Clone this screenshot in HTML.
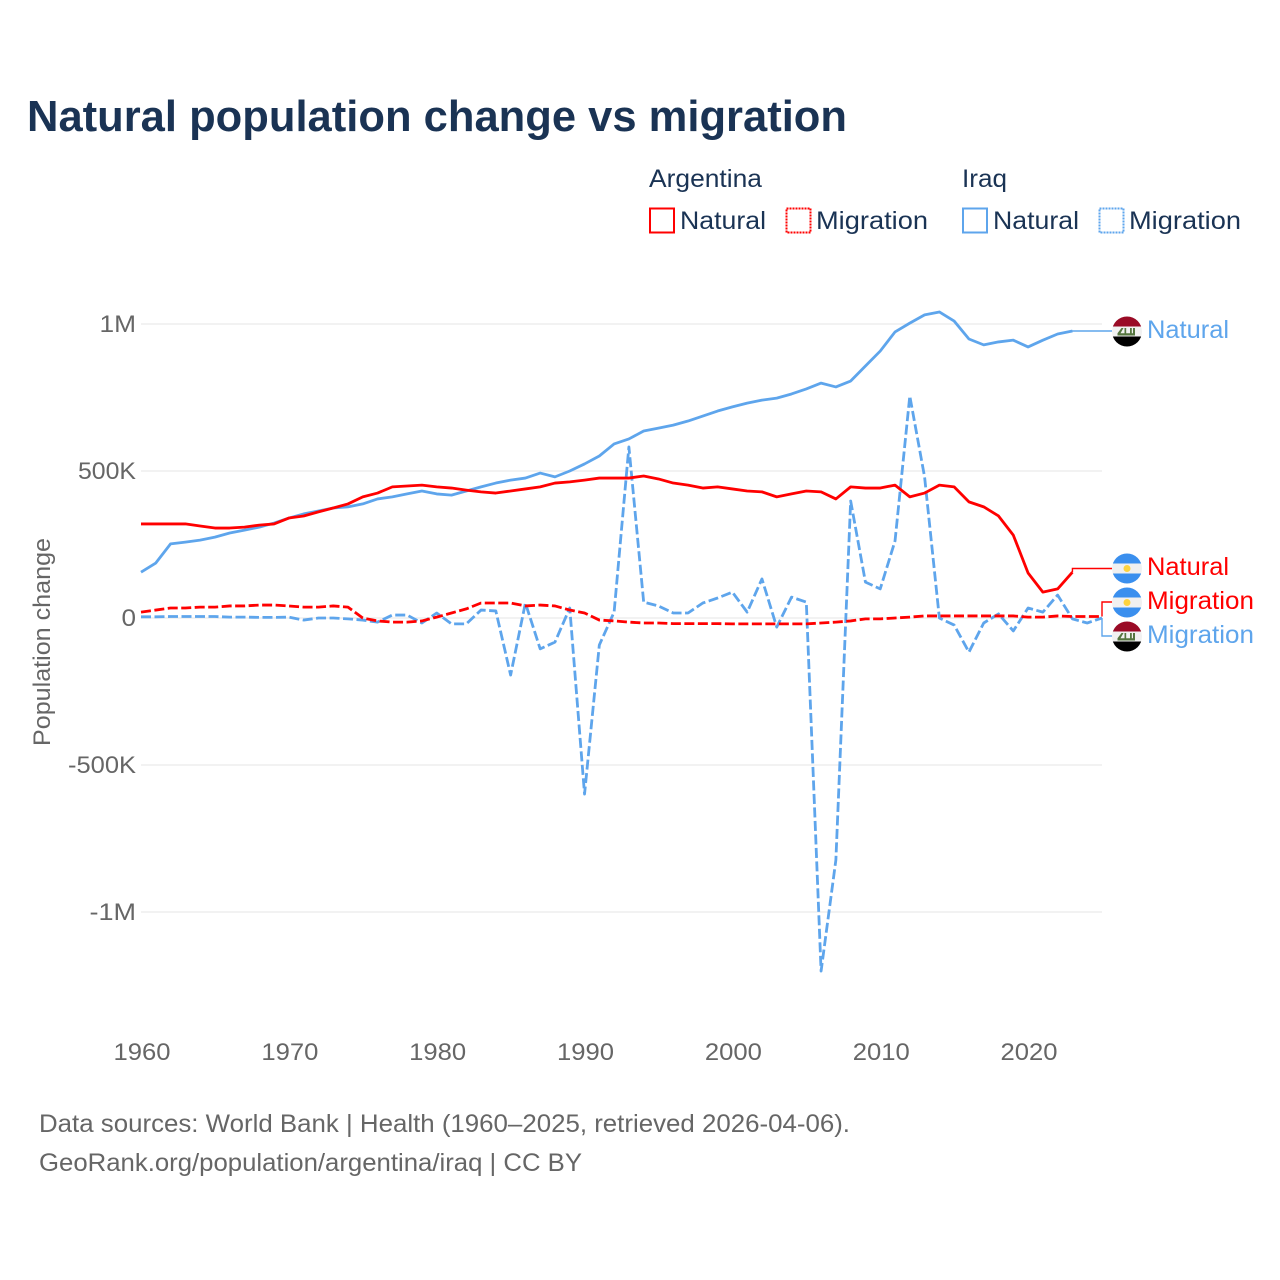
<!DOCTYPE html>
<html lang="en">
<head>
<meta charset="utf-8">
<title>Natural population change vs migration</title>
<style>
html,body{margin:0;padding:0;background:#fff;}
svg{display:block;font-family:"Liberation Sans",sans-serif;}
</style>
</head>
<body>
<svg id="chart" xmlns="http://www.w3.org/2000/svg" width="1280" height="1280" viewBox="0 0 1280 1280">
  <rect x="0" y="0" width="1280" height="1280" fill="#ffffff"/>
  <text x="27" y="131" font-size="44" font-weight="700" fill="#1a3354" textLength="820" lengthAdjust="spacingAndGlyphs">Natural population change vs migration</text>

  <g font-size="25" fill="#1a3354">
    <text x="649" y="187" textLength="113" lengthAdjust="spacingAndGlyphs">Argentina</text>
    <text x="962" y="187" textLength="45" lengthAdjust="spacingAndGlyphs">Iraq</text>
    <g>
      <rect x="650" y="208.500" width="24" height="24" fill="none" stroke="#ff0000" stroke-width="2"/>
      <text x="680" y="229" textLength="86" lengthAdjust="spacingAndGlyphs">Natural</text>
    </g>
    <g>
      <rect x="786.500" y="208.500" width="24" height="24" fill="none" stroke="#ff0000" stroke-width="2" stroke-dasharray="2 1"/>
      <text x="816" y="229" textLength="112" lengthAdjust="spacingAndGlyphs">Migration</text>
    </g>
    <g>
      <rect x="963" y="208.500" width="24" height="24" fill="none" stroke="#5ea5ec" stroke-width="2"/>
      <text x="993" y="229" textLength="86" lengthAdjust="spacingAndGlyphs">Natural</text>
    </g>
    <g>
      <rect x="1099.500" y="208.500" width="24" height="24" fill="none" stroke="#5ea5ec" stroke-width="2" stroke-dasharray="2 1"/>
      <text x="1129" y="229" textLength="112" lengthAdjust="spacingAndGlyphs">Migration</text>
    </g>
  </g>

  <g id="grid"></g>
  <g id="y-ticks" font-size="24" fill="#666666" text-anchor="end"></g>
  <g id="x-ticks" font-size="24" fill="#666666" text-anchor="middle"></g>
  <text transform="translate(50 642) rotate(-90)" text-anchor="middle" font-size="24" fill="#666666" textLength="208" lengthAdjust="spacingAndGlyphs">Population change</text>

  <g id="series"></g>
  <g id="connectors"></g>

  <defs>
    <clipPath id="flag-clip"><circle cx="0" cy="0" r="15"/></clipPath>
    <g id="flag-iraq">
      <rect x="-15" y="-15" width="30" height="10" fill="#9a0b26"/>
      <rect x="-15" y="-5" width="30" height="10" fill="#f1f1f1"/>
      <rect x="-15" y="5" width="30" height="10" fill="#000000"/>
      <path d="M-9.500 4V1.800L-5.500-3.500H-3.500L-6.500 1.800H-2.500V-3.500H-0.800V1.800H3V-3.500H4.800V1.800H6V-3.500H8V4Z" fill="#55763f"/>
    </g>
    <g id="flag-argentina">
      <rect x="-15" y="-15" width="30" height="10" fill="#3a8fee"/>
      <rect x="-15" y="-5" width="30" height="10" fill="#f0f0f0"/>
      <rect x="-15" y="5" width="30" height="10" fill="#3a8fee"/>
      <circle cx="0" cy="0" r="3.500" fill="#fdd33f"/>
    </g>
  </defs>

  <g>
    <g transform="translate(1127 331.500)"><g clip-path="url(#flag-clip)"><use href="#flag-iraq"/></g></g>
    <text x="1147" y="338" font-size="25" fill="#5ea5ec" textLength="82" lengthAdjust="spacingAndGlyphs">Natural</text>
  </g>
  <g>
    <g transform="translate(1127 568.500)"><g clip-path="url(#flag-clip)"><use href="#flag-argentina"/></g></g>
    <text x="1147" y="575" font-size="25" fill="#ff0000" textLength="82" lengthAdjust="spacingAndGlyphs">Natural</text>
  </g>
  <g>
    <g transform="translate(1127 602.500)"><g clip-path="url(#flag-clip)"><use href="#flag-argentina"/></g></g>
    <text x="1147" y="609" font-size="25" fill="#ff0000" textLength="107" lengthAdjust="spacingAndGlyphs">Migration</text>
  </g>
  <g>
    <g transform="translate(1127 636.500)"><g clip-path="url(#flag-clip)"><use href="#flag-iraq"/></g></g>
    <text x="1147" y="643" font-size="25" fill="#5ea5ec" textLength="107" lengthAdjust="spacingAndGlyphs">Migration</text>
  </g>

  <g font-size="25" fill="#666666">
    <text x="39" y="1132" textLength="811" lengthAdjust="spacingAndGlyphs">Data sources: World Bank | Health (1960–2025, retrieved 2026-04-06).</text>
    <text x="39" y="1171" textLength="543" lengthAdjust="spacingAndGlyphs">GeoRank.org/population/argentina/iraq | CC BY</text>
  </g>
</svg>
<script>
const startYear = 1960;
const endYear = 2025;
const xTickYears = [1960, 1970, 1980, 1990, 2000, 2010, 2020];
const yTickValues = [1000, 500, 0, -500, -1000];
const yTickLabels = ["1M", "500K", "0", "-500K", "-1M"];
const iraqNatural = [156,187,252,258,265,275,289,299,309,323,340,354,364,374,378,388,405,412,422,432,422,418,432,446,459,469,476,493,480,500,524,551,592,609,636,646,656,670,687,704,718,731,741,748,762,779,799,786,806,857,908,973,1003,1031,1041,1010,949,929,939,945,922,945,966,976];
const argentinaNatural = [320,320,320,320,313,306,306,309,316,320,340,347,361,374,388,412,425,446,449,452,446,442,435,429,425,432,439,446,459,463,469,476,476,476,483,473,459,452,442,446,439,432,429,412,422,432,429,405,446,442,442,452,412,425,452,446,395,378,347,282,153,88,99,156];
const argentinaMigration = [20,27,34,34,37,37,41,41,44,44,41,37,37,41,37,0,-10,-14,-14,-10,3,17,31,51,51,51,41,44,41,27,17,-7,-10,-14,-17,-17,-19,-19,-19,-19,-20,-20,-20,-20,-20,-20,-17,-14,-10,-3,-3,0,3,7,7,7,7,7,7,7,3,3,7,5,5,5];
const iraqMigration = [4,4,5,5,5,5,3,3,2,2,3,-7,0,0,-3,-7,-14,10,10,-17,17,-20,-20,27,24,-194,51,-105,-82,34,-599,-92,20,582,54,41,17,17,51,68,88,20,133,-31,71,54,-1201,-823,398,122,99,262,755,480,0,-24,-116,-17,14,-44,34,20,78,-3,-17,0];

const SVG_NS = "http://www.w3.org/2000/svg";
const RED = "#ff0000";
const BLUE = "#5ea5ec";
const xLeft = 141, xRight = 1102, yZero = 618, pxPerK = 0.294;
function xScale(year) { return xLeft + (year - startYear) * (xRight - xLeft) / (endYear - startYear); }
function yScale(value) { return yZero - value * pxPerK; }
function make(tag, attrs) {
  const el = document.createElementNS(SVG_NS, tag);
  for (const k in attrs) el.setAttribute(k, attrs[k]);
  return el;
}
function tickLabelWidth(text) {
  let w = 0;
  for (const ch of text) w += ch === "M" ? 22 : ch === "-" ? 10 : 14.500;
  return w;
}

const gridG = document.getElementById("grid");
const yTickG = document.getElementById("y-ticks");
yTickValues.forEach(function (v, i) {
  const line = make("line", { x1: xLeft, x2: xRight, y1: yScale(v), y2: yScale(v), stroke: "#e9e9e9", "stroke-width": 1.300 });
  
  
  gridG.appendChild(line);
  const label = make("text", { x: 136, y: yScale(v) + 8, textLength: tickLabelWidth(yTickLabels[i]), lengthAdjust: "spacingAndGlyphs" });
  
  
  label.textContent = yTickLabels[i];
  yTickG.appendChild(label);
});

const xTickG = document.getElementById("x-ticks");
xTickYears.forEach(function (yr) {
  const label = make("text", { x: xScale(yr) + 1, y: 1060, textLength: 57, lengthAdjust: "spacingAndGlyphs" });
  
  
  label.textContent = String(yr);
  xTickG.appendChild(label);
});

function pointsFor(values) {
  return values.map(function (v, i) { return xScale(startYear + i).toFixed(2) + "," + yScale(v).toFixed(2); }).join(" ");
}
const seriesG = document.getElementById("series");
function drawSeries(values, color, dashed, name) {
  const line = make("polyline", { points: pointsFor(values), fill: "none", stroke: color, "stroke-width": 2.800, "stroke-linejoin": "round" });
  if (dashed) line.setAttribute("stroke-dasharray", "10 3.500");
  
  
  seriesG.appendChild(line);
}
drawSeries(iraqMigration, BLUE, true, "line-iraq-migration");
drawSeries(iraqNatural, BLUE, false, "line-iraq-natural");
drawSeries(argentinaNatural, RED, false, "line-argentina-natural");
drawSeries(argentinaMigration, RED, true, "line-argentina-migration");

const connectorsG = document.getElementById("connectors");
function drawConnector(values, color, labelY, name) {
  const lastX = xScale(startYear + values.length - 1);
  const lastY = yScale(values[values.length - 1]);
  const path = make("path", { d: "M" + lastX + " " + lastY + "V" + labelY + "H1112", fill: "none", stroke: color, "stroke-width": 1.400 });
  
  
  connectorsG.appendChild(path);
}
drawConnector(iraqNatural, BLUE, 331, "connector-iraq-natural");
drawConnector(argentinaNatural, RED, 568.500, "connector-argentina-natural");
drawConnector(argentinaMigration, RED, 602, "connector-argentina-migration");
drawConnector(iraqMigration, BLUE, 636, "connector-iraq-migration");
</script>
</body>
</html>
